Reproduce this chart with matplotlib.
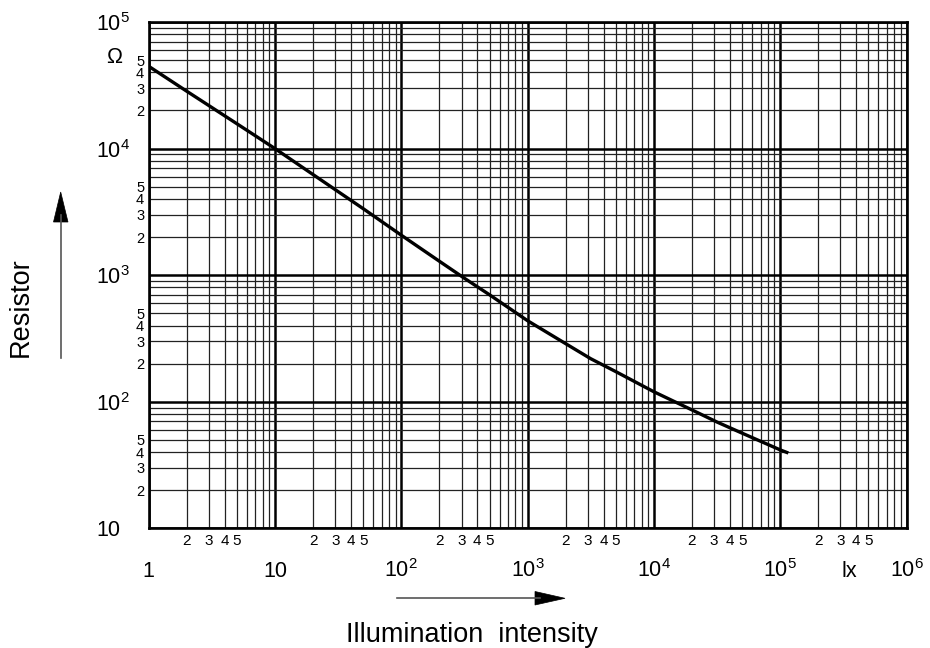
import matplotlib
matplotlib.use("Agg")
import matplotlib.pyplot as plt
from matplotlib.patches import Polygon
from matplotlib.lines import Line2D
from matplotlib import transforms

plt.rcParams['font.family'] = ['Liberation Sans', 'DejaVu Sans']
plt.rcParams['mathtext.fontset'] = 'custom'
plt.rcParams['mathtext.rm'] = 'Liberation Sans'
plt.rcParams['mathtext.it'] = 'Liberation Sans:italic'
plt.rcParams['mathtext.bf'] = 'Liberation Sans:bold'

# ---- data ----
lux = [1, 2, 5, 10, 20, 50, 100, 200, 316, 500, 1000, 2000, 3160, 5000,
       1e4, 2e4, 3.16e4, 5e4, 1e5, 1.16e5]
resistance = [44700, 28400, 15700, 10000, 6240, 3350, 2070, 1290, 946, 700,
              437, 288, 219, 173, 120, 86.3, 69.2, 56.5, 41.7, 39.4]

x_major = [1, 10, 1e2, 1e3, 1e4, 1e5, 1e6]
x_major_labels = ['1', '10', r'$\mathrm{10^{2}}$', r'$\mathrm{10^{3}}$',
                  r'$\mathrm{10^{4}}$', r'$\mathrm{10^{5}}$', r'$\mathrm{10^{6}}$']
y_major = [10, 1e2, 1e3, 1e4, 1e5]
y_major_labels = ['10', r'$\mathrm{10^{2}}$', r'$\mathrm{10^{3}}$',
                  r'$\mathrm{10^{4}}$', r'$\mathrm{10^{5}}$']
minor_mult = [2, 3, 4, 5, 6, 7, 8, 9]
minor_labelled = ['2', '3', '4', '5']

x_unit = 'lx'
y_unit = 'Ω'
x_title = 'Illumination  intensity'
y_title = 'Resistor'

W, H = 930, 648
fig = plt.figure(figsize=(W / 100, H / 100), dpi=100)
L, R, T, B = 148.7, 906.5, 22.0, 528.4
ax = fig.add_axes([L / W, (H - B) / H, (R - L) / W, (B - T) / H])

ax.set_xscale('log')
ax.set_yscale('log')
ax.set_xlim(x_major[0], x_major[-1])
ax.set_ylim(y_major[0], y_major[-1])

x_minor = [m * d for d in x_major[:-1] for m in minor_mult]
x_minor_labels = [(str(m) if str(m) in minor_labelled else '') for d in x_major[:-1] for m in minor_mult]
y_minor = [m * d for d in y_major[:-1] for m in minor_mult]
y_minor_labels = [(str(m) if str(m) in minor_labelled else '') for d in y_major[:-1] for m in minor_mult]

ax.set_xticks(x_major)
ax.set_xticklabels(x_major_labels)
ax.set_xticks(x_minor, minor=True)
ax.set_xticklabels(x_minor_labels, minor=True)
ax.set_yticks(y_major)
ax.set_yticklabels(y_major_labels)
ax.set_yticks(y_minor, minor=True)
ax.set_yticklabels(y_minor_labels, minor=True)

px2pt = 72 / 100
major_fs = 15.5
ax.tick_params(which='both', length=0)
ax.tick_params(axis='x', which='major', pad=48.3 * px2pt, labelsize=major_fs)
ax.tick_params(axis='x', which='minor', pad=6.0 * px2pt, labelsize=11)
ax.tick_params(axis='y', which='major', pad=(L - 96) * px2pt, labelsize=major_fs)
ax.tick_params(axis='y', which='minor', pad=4.5 * px2pt, labelsize=10.5)
for lab in ax.get_xticklabels(which='major'):
    lab.set_verticalalignment('baseline')
for lab in ax.get_yticklabels(which='major'):
    lab.set_horizontalalignment('left')
    lab.set_verticalalignment('center_baseline')

ax.grid(which='minor', color='#222222', linewidth=0.9)
ax.grid(which='major', color='black', linewidth=1.8)
for s in ax.spines.values():
    s.set_linewidth(1.9)
    s.set_color('black')
    s.set_zorder(3)

ax.plot(lux, resistance, color='black', linewidth=2.4, solid_capstyle='butt',
        solid_joinstyle='round', zorder=4)

# units
tx = transforms.blended_transform_factory(ax.transData, ax.transAxes)
ax.text(3.5e5, -48.3 / (B - T), x_unit, transform=tx, ha='center', va='baseline',
        fontsize=major_fs, clip_on=False)
ty = transforms.blended_transform_factory(ax.transAxes, ax.transData)
ax.text(-(L - 114) / (R - L), 5.2e4, y_unit, transform=ty, ha='center', va='center',
        fontsize=major_fs, clip_on=False)

# axis titles
fig.text(472 / W, 1 - 642 / H, x_title, ha='center', va='baseline', fontsize=19.5)
fig.text(21 / W, 1 - 307 / H, y_title, ha='center', va='center', rotation=90, fontsize=19.5)

def fx(p):
    return p / W
def fy(p):
    return 1 - p / H

# y arrow
fig.add_artist(Line2D([fx(60.7), fx(60.7)], [fy(358), fy(215)], color='#555555', linewidth=1.2))
fig.add_artist(Polygon([[fx(60.7), fy(192)], [fx(53.5), fy(222)], [fx(68), fy(222)]],
                       closed=True, facecolor='black', edgecolor='black', linewidth=0.5,
                       transform=fig.transFigure))
# x arrow
fig.add_artist(Line2D([fx(396.7), fx(540)], [fy(598.3), fy(598.3)], color='#555555', linewidth=1.2))
fig.add_artist(Polygon([[fx(565), fy(598.3)], [fx(535), fy(591.5)], [fx(535), fy(605)]],
                       closed=True, facecolor='black', edgecolor='black', linewidth=0.5,
                       transform=fig.transFigure))

fig.savefig('out.png', dpi=100)
